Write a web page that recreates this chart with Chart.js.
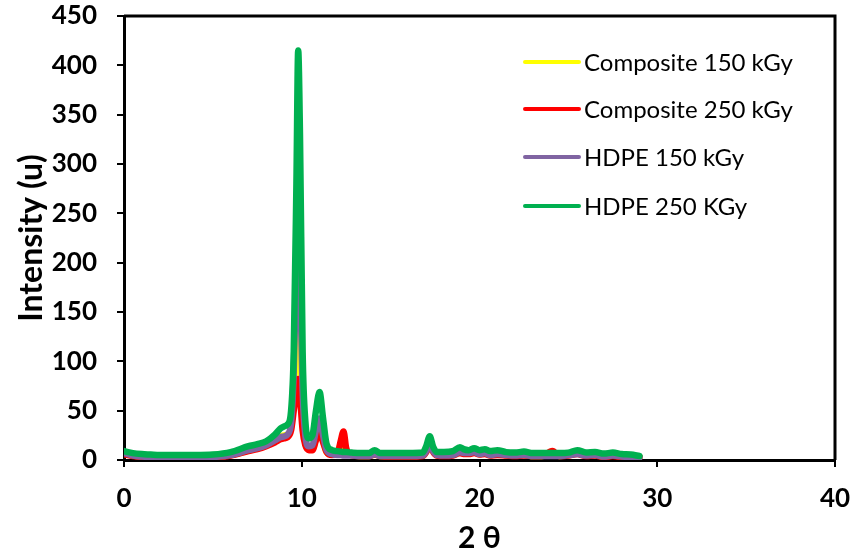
<!DOCTYPE html>
<html>
<head>
<meta charset="utf-8">
<script src="https://cdn.jsdelivr.net/npm/chart.js@4.4.1/dist/chart.umd.min.js"></script>
<style>
  html, body { margin: 0; padding: 0; background: #fff; }
  #wrap { width: 852px; height: 551px; }
</style>
</head>
<body>
<div id="wrap"><canvas id="xrd" width="852" height="551"></canvas></div>
<script>
// Angulos 2 theta
const angulos = [0, 0.5, 1, 1.5, 2, 3, 4, 5, 6, 7,
    7.5, 8, 8.5, 8.8, 9.0, 9.2, 9.4, 9.55, 9.7, 9.8,
    9.9, 10.05, 10.2, 10.4, 10.6, 10.8, 11.0, 11.2, 11.4, 11.7,
    12.0, 12.2, 12.35, 12.5, 12.8, 13.3, 13.8, 14.1, 14.4, 15,
    16, 16.8, 17.0, 17.2, 17.4, 17.6, 18, 18.5, 18.9, 19.1,
    19.4, 19.7, 20.0, 20.3, 20.6, 21.0, 21.5, 22.0, 22.5, 23,
    23.5, 24.1, 24.5, 25, 25.5, 26, 26.5, 27, 27.5, 28,
    28.5, 29];

// Intensidades por muestra
const composite150 = [6.5, 4.5, 3.5, 3, 2.5, 2.5, 2.5, 3, 5, 9.5,
    12, 15, 20, 24, 25, 26, 34, 70, 130, 160,
    120, 45, 18, 11, 11, 22, 32, 20, 8, 5.5,
    8, 16, 18, 9, 5, 4, 4, 6, 4, 4,
    4, 4.5, 9, 17, 9, 5, 4.5, 5, 8, 7,
    7, 8, 6, 7, 5, 6, 5, 4.5, 5, 4,
    4, 6, 4, 5, 6.5, 4.5, 5, 3.5, 4.5, 3.5,
    3, 3];
const composite250 = [6, 4, 3, 2.5, 2, 2, 2, 2.5, 4.5, 9,
    11, 14, 18, 21, 22, 23, 30, 50, 70, 82,
    65, 30, 15, 10, 10, 20, 28, 18, 8, 5,
    6, 20, 29, 12, 5, 4, 4, 5.5, 4, 3.5,
    3.5, 4, 8, 15, 8, 4.5, 4, 4.5, 7, 6,
    6, 7, 5.5, 6, 4.5, 5, 4.5, 4, 4.5, 4,
    4, 9, 4, 4.5, 6, 4, 4.5, 3, 4, 3,
    3, 3];
const hdpe150 = [7, 4.5, 3.5, 3, 2.5, 2.5, 2.5, 3, 5, 10,
    12, 15, 20, 23, 24, 26, 38, 90, 200, 238,
    190, 70, 25, 14, 15, 30, 42, 25, 10, 6,
    5, 5, 4.5, 4.5, 4.5, 4, 4, 6, 4, 4,
    4, 4.5, 9, 16, 9, 5, 4.5, 5, 8, 7,
    7, 8, 6, 7, 5, 6, 5, 4.5, 5, 4,
    4, 4, 4, 5, 6, 4.5, 5, 3.5, 4.5, 3.5,
    3, 2.5];
const hdpe250 = [9, 7, 6, 5.5, 5, 5, 5, 5.5, 8, 14,
    16, 19, 26, 32, 34, 36, 50, 110, 280, 415,
    330, 110, 40, 22, 25, 50, 69, 42, 16, 10,
    9, 8.5, 8, 8, 7.5, 7, 7, 10, 7, 7,
    7, 7.5, 14, 24, 13, 8, 8, 9, 13, 11,
    10, 12, 10, 11, 9, 10, 8, 7.5, 8.5, 7,
    7, 7, 7, 7.5, 10, 7.5, 8, 6.5, 7.5, 6,
    5.5, 4];

const etiquetas = ['Composite 150 kGy', 'Composite 250 kGy', 'HDPE 150 kGy', 'HDPE 250 KGy'];
const colores = ['#FFFF00', '#FF0000', '#8064A2', '#00B050'];
const series = [composite150, composite250, hdpe150, hdpe250];

const ticksX = [0, 10, 20, 30, 40];
const ticksY = [0, 50, 100, 150, 200, 250, 300, 350, 400, 450];

const fuente = 'Lato, "Open Sans", sans-serif';

function puntos(ys) {
    return angulos.map((a, i) => ({ x: a, y: ys[i] }));
}

// Marco del area y leyenda
const marcoYLeyenda = {
    id: 'marcoYLeyenda',
    afterDatasetsDraw(chart) {
        const { ctx, chartArea: a } = chart;
        ctx.save();
        ctx.strokeStyle = '#000';
        ctx.lineWidth = 3;
        ctx.beginPath();
        ctx.moveTo(a.left, a.top);
        ctx.lineTo(a.right, a.top);
        ctx.lineTo(a.right, a.bottom);
        ctx.stroke();

        const ys = [62, 109, 157, 206];
        ctx.font = '24px ' + fuente;
        ctx.textBaseline = 'middle';
        ctx.lineCap = 'round';
        chart.data.datasets.forEach((ds, i) => {
            ctx.strokeStyle = ds.borderColor;
            ctx.lineWidth = 4;
            ctx.beginPath();
            ctx.moveTo(525, ys[i]);
            ctx.lineTo(579, ys[i]);
            ctx.stroke();
            ctx.fillStyle = '#000';
            ctx.fillText(ds.label, 584, ys[i] + 1);
        });
        ctx.restore();
    }
};

const ctx = document.getElementById('xrd').getContext('2d');
const xrdChart = new Chart(ctx, {
    type: 'line',
    data: {
        datasets: series.map((s, i) => ({
            label: etiquetas[i],
            data: puntos(s),
            borderColor: colores[i],
            backgroundColor: colores[i],
            borderWidth: 6.5,
            pointRadius: 0,
            cubicInterpolationMode: 'monotone',
            borderCapStyle: 'round',
            borderJoinStyle: 'round',
            order: 4 - i
        }))
    },
    options: {
        responsive: false,
        animation: false,
        layout: { padding: { top: 16, right: 17, left: 0, bottom: 0 } },
        plugins: {
            legend: { display: false },
            tooltip: { enabled: false }
        },
        scales: {
            x: {
                type: 'linear',
                min: 0,
                max: 40,
                afterBuildTicks: (s) => { s.ticks = ticksX.map(v => ({ value: v })); },
                afterFit: (s) => { s.height = 91; s.paddingLeft = 0; s.paddingRight = 0; },
                border: { color: '#000', width: 3 },
                grid: { drawOnChartArea: false, color: '#000', lineWidth: 2, tickLength: 7 },
                ticks: { color: '#000', padding: 16, font: { family: fuente, size: 26, weight: 'bold' } },
                title: {
                    display: true,
                    text: '2 θ',
                    color: '#000',
                    padding: { top: 0, bottom: -5 },
                    font: { family: fuente, size: 30, weight: 'bold' }
                }
            },
            y: {
                min: 0,
                max: 450,
                afterBuildTicks: (s) => { s.ticks = ticksY.map(v => ({ value: v })); },
                afterFit: (s) => { s.width = 124; s.paddingTop = 0; s.paddingBottom = 0; },
                border: { color: '#000', width: 3 },
                grid: { drawOnChartArea: false, color: '#000', lineWidth: 2, tickLength: 7 },
                ticks: { color: '#000', padding: 20, font: { family: fuente, size: 26, weight: 'bold' } },
                title: {
                    display: true,
                    text: 'Intensity (u)',
                    color: '#000',
                    padding: { top: 12, bottom: 0 },
                    font: { family: fuente, size: 32, weight: 'bold' }
                }
            }
        }
    },
    plugins: [marcoYLeyenda]
});
</script>
</body>
</html>
